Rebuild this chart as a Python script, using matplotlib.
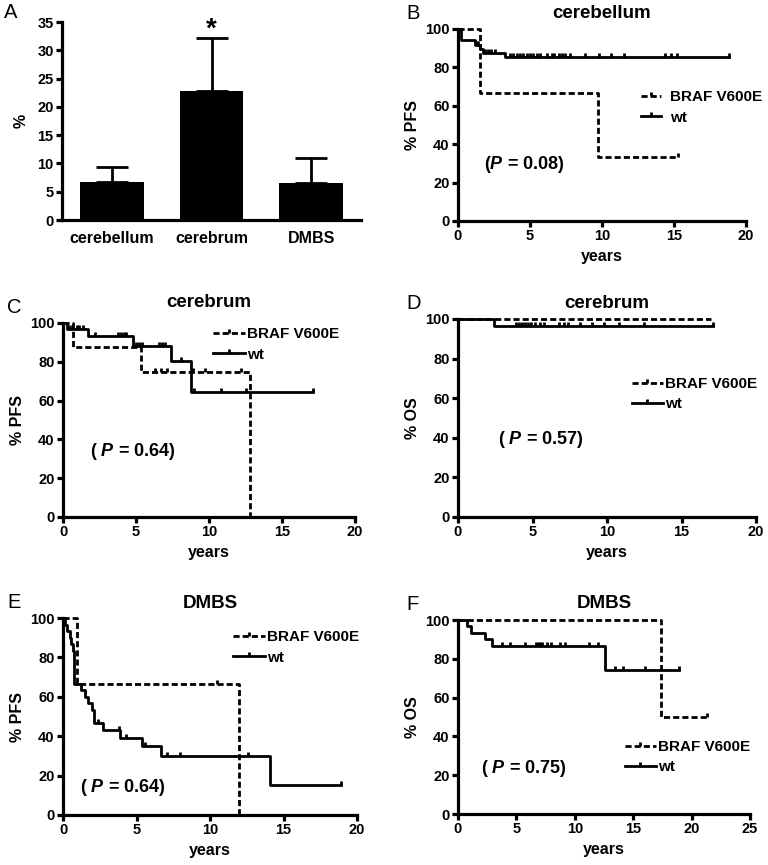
import matplotlib
matplotlib.use('Agg')
import matplotlib.pyplot as plt
import numpy as np
from matplotlib.lines import Line2D

plt.rcParams['font.family'] = ['Liberation Sans', 'DejaVu Sans']
plt.rcParams['font.weight'] = 'bold'
plt.rcParams['axes.labelweight'] = 'bold'
plt.rcParams['mathtext.fontset'] = 'custom'
plt.rcParams['mathtext.it'] = 'Liberation Sans:italic:bold'
plt.rcParams['mathtext.rm'] = 'Liberation Sans:bold'

# panel A: BRAF V600E frequency by site
regions = ['cerebellum', 'cerebrum', 'DMBS']
pct = [6.7, 22.8, 6.5]
pct_err = [2.75, 9.3, 4.45]

# panel B: cerebellum PFS
b_braf_t = [0, 1.5, 9.7, 15.3]
b_braf_s = [100, 66.7, 33.3, 33.3]
b_braf_c = [15.3]
b_wt_t = [0, 0.2, 1.15, 1.5, 1.75, 3.25, 18.8]
b_wt_s = [100, 94.4, 91.5, 89.5, 87.5, 85.2, 85.2]
b_wt_c = [1.3, 1.4, 1.9, 2.1, 2.3, 2.6, 3.6, 3.8, 4.1, 4.3, 4.5, 4.8, 5.0, 5.2,
          5.5, 5.7, 6.2, 6.5, 6.7, 7.0, 7.2, 7.4, 7.8, 8.8, 9.8, 10.6, 11.5,
          14.4, 14.8, 15.2, 18.8]

# panel C: cerebrum PFS
c_braf_t = [0, 0.7, 5.35, 12.8]
c_braf_s = [100, 87.5, 75, 0]
c_braf_c = [6.3, 6.7, 7.1, 8.9, 9.7, 12.2]
c_wt_t = [0, 0.25, 1.7, 4.8, 7.4, 8.8, 17.1]
c_wt_s = [100, 97, 93.1, 88, 80.2, 64.4, 64.4]
c_wt_c = [0.4, 0.65, 0.95, 1.1, 1.35, 2.2, 3.8, 4.0, 4.15, 4.3, 5.0, 5.2, 5.4,
          6.6, 6.8, 7.0, 8.1, 8.95, 10.8, 12.5, 17.1]

# panel D: cerebrum OS
d_braf_t = [0, 17.0]
d_braf_s = [100, 100]
d_braf_c = []
d_wt_t = [0, 2.4, 17.1]
d_wt_s = [100, 96.3, 96.3]
d_wt_c = [3.9, 4.1, 4.3, 4.5, 4.7, 4.9, 5.2, 5.5, 5.8, 6.8, 7.1, 7.4, 8.2, 9.0,
          9.8, 10.8, 12.5, 17.1]

# panel E: DMBS PFS
e_braf_t = [0, 0.93, 12.0]
e_braf_s = [100, 66.7, 0]
e_braf_c = [10.5]
e_wt_t = [0, 0.15, 0.3, 0.45, 0.55, 0.65, 0.77, 1.25, 1.5, 1.7, 1.95, 2.1, 2.75,
          3.9, 5.35, 6.65, 14.1, 18.9]
e_wt_s = [100, 96.7, 93.3, 90, 86.7, 83.3, 66.7, 63.3, 60, 56.7, 53.3, 46.7, 43.3,
          39.2, 34.9, 30.0, 15.0, 15.0]
e_wt_c = [2.4, 3.8, 4.3, 5.6, 7.05, 7.95, 12.6, 18.9]

# panel F: DMBS OS
f_braf_t = [0, 17.35, 21.3]
f_braf_s = [100, 50, 50]
f_braf_c = [21.3]
f_wt_t = [0, 0.75, 1.15, 2.3, 2.9, 12.6, 18.9]
f_wt_s = [100, 96.7, 93.3, 90, 86.7, 74.3, 74.3]
f_wt_c = [3.75, 4.45, 5.75, 6.7, 6.85, 7.0, 7.2, 7.6, 8.0, 8.7, 9.2, 11.2, 12.0,
          13.4, 14.1, 16.0, 18.9]

W, H = 768, 865
fig = plt.figure(figsize=(W / 100, H / 100), dpi=100)
LW = 2.0
DASH = (0, (2.2, 1.1))


def px_axes(x0, y0, x1, y1):
    return fig.add_axes([x0 / W, 1 - y1 / H, (x1 - x0) / W, (y1 - y0) / H])


def style(ax):
    for s in ['top', 'right']:
        ax.spines[s].set_visible(False)
    for s in ['left', 'bottom']:
        ax.spines[s].set_linewidth(2.3)
    ax.tick_params(direction='out', length=4, width=2.3, labelsize=10.5, pad=2)


def km(ax, t, s, c, ls):
    ax.step(t, s, where='post', color='k', lw=LW, ls=ls, clip_on=False)
    if len(c):
        idx = np.searchsorted(t, c, side='right') - 1
        ax.plot(c, np.array(s)[idx], ls='none', marker=2, ms=3.2, mew=2,
                color='k', clip_on=False)


def km_panel(ax, letter, title, tpad, ylab, braf, wt, xmax, leg_xy, hl, htp,
             ptxt, p_xy):
    style(ax)
    km(ax, *braf, DASH)
    km(ax, *wt, '-')
    ax.set_xlim(0, xmax)
    ax.set_ylim(0, 100)
    ax.set_xticks(np.arange(0, xmax + 1, 5))
    ax.set_yticks(np.arange(0, 101, 20))
    ax.set_xlabel('years', fontsize=11.5, labelpad=4)
    ax.set_ylabel(ylab, fontsize=11.5, labelpad=4)
    ax.set_title(title, fontsize=13.5, fontweight='bold', pad=tpad)
    handles = [Line2D([], [], color='k', ls=DASH, lw=LW, marker=2, ms=3.2, mew=2),
               Line2D([], [], color='k', ls='-', lw=LW, marker=2, ms=3.2, mew=2)]
    ax.legend(handles, ['BRAF V600E', 'wt'], loc='center left',
              bbox_to_anchor=leg_xy, frameon=False, numpoints=1,
              handlelength=hl, handletextpad=htp, labelspacing=0.4,
              borderpad=0, borderaxespad=0, prop={'size': 11, 'weight': 'bold'})
    ax.text(p_xy[0], p_xy[1], ptxt, transform=ax.transAxes, ha='center',
            va='center', fontsize=13)
    bb = ax.get_position()
    fig.text(bb.x0 - 56 / W if letter in 'ACE' else bb.x0 - 52 / W,
             bb.y1 + 6 / H, letter, fontsize=14.5, fontweight='normal', va='bottom')


# A
axA = px_axes(62, 22, 361, 220)
style(axA)
x = np.arange(len(regions))
axA.bar(x, pct, width=0.64, color='k')
axA.errorbar(x, pct, yerr=[np.zeros(len(pct)), pct_err], fmt='none', ecolor='k',
             elinewidth=LW, capsize=11.5, capthick=LW)
axA.set_xlim(-0.5, 2.5)
axA.set_ylim(0, 35)
axA.set_yticks(np.arange(0, 36, 5))
axA.set_xticks(x)
axA.set_xticklabels(regions, fontsize=11.5)
axA.tick_params(axis='x', length=0, pad=8)
axA.set_ylabel('%', fontsize=11.5, labelpad=6)
axA.text(1, 33.6, '*', ha='center', va='center', fontsize=20)
fig.text(4 / W, 1 - 22 / H, 'A', fontsize=14.5, fontweight='normal', va='bottom')

axB = px_axes(458, 29, 746, 221)
km_panel(axB, 'B', 'cerebellum', 8, '% PFS', (b_braf_t, b_braf_s, b_braf_c),
         (b_wt_t, b_wt_s, b_wt_c), 20, (0.635, 0.591), 1.3, 0.6,
         r'($\mathit{P}$ = 0.08)', (0.229, 0.292))
axC = px_axes(63, 323, 355, 517)
km_panel(axC, 'C', 'cerebrum', 11.5, '% PFS', (c_braf_t, c_braf_s, c_braf_c),
         (c_wt_t, c_wt_s, c_wt_c), 20, (0.514, 0.889), 2.1, 0.15,
         r'( $\mathit{P}$ = 0.64)', (0.240, 0.340))
axD = px_axes(458, 319, 756, 517)
km_panel(axD, 'D', 'cerebrum', 8, '% OS', (d_braf_t, d_braf_s, d_braf_c),
         (d_wt_t, d_wt_s, d_wt_c), 20, (0.584, 0.621), 2.0, 0.15,
         r'( $\mathit{P}$ = 0.57)', (0.279, 0.389))
axE = px_axes(63, 618, 357, 815)
km_panel(axE, 'E', 'DMBS', 7.5, '% PFS', (e_braf_t, e_braf_s, e_braf_c),
         (e_wt_t, e_wt_s, e_wt_c), 20, (0.578, 0.850), 2.1, 0.15,
         r'( $\mathit{P}$ = 0.64)', (0.204, 0.142))
axF = px_axes(458, 620, 750, 814)
km_panel(axF, 'F', 'DMBS', 8.5, '% OS', (f_braf_t, f_braf_s, f_braf_c),
         (f_wt_t, f_wt_s, f_wt_c), 25, (0.572, 0.294), 2.0, 0.15,
         r'( $\mathit{P}$ = 0.75)', (0.226, 0.232))

fig.savefig('out.png', dpi=100)
